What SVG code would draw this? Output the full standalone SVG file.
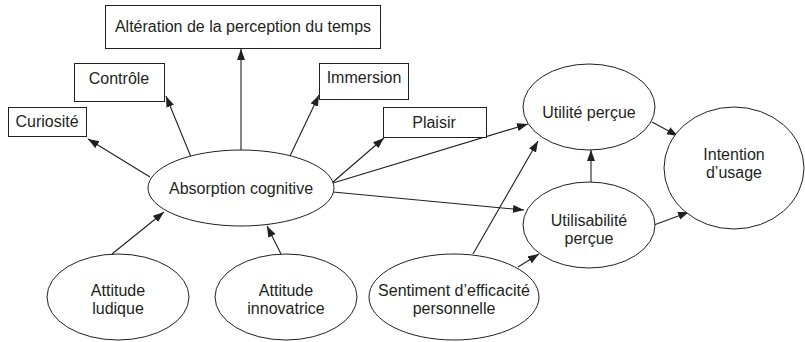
<svg xmlns="http://www.w3.org/2000/svg" width="805" height="342" viewBox="0 0 805 342">
<style>
.n{fill:#fff;stroke:#231f20;stroke-width:1}
.t{font-family:"Liberation Sans",Arial,sans-serif;font-size:16px;fill:#231f20;text-anchor:middle}
.c line{stroke:#231f20;stroke-width:1.1;marker-end:url(#ah)}
</style>
<defs>
<marker id="ah" markerUnits="userSpaceOnUse" markerWidth="12" markerHeight="10" refX="11" refY="4" orient="auto">
<path d="M0,0 L11,4 L0,8 Z" fill="#231f20"/>
</marker>
</defs>
<rect width="805" height="342" fill="#fff"/>
<g class="c">
<line x1="150" y1="177" x2="88" y2="139"/>
<line x1="191" y1="157" x2="166" y2="96"/>
<line x1="241" y1="150" x2="241" y2="49"/>
<line x1="290" y1="156" x2="319" y2="95"/>
<line x1="333" y1="182" x2="384" y2="138"/>
<line x1="333" y1="183" x2="528" y2="124"/>
<line x1="333" y1="192" x2="524" y2="210"/>
<line x1="591" y1="182" x2="591" y2="150"/>
<line x1="652" y1="122" x2="678" y2="136"/>
<line x1="654" y1="225" x2="689" y2="212"/>
<line x1="473" y1="254" x2="538" y2="141"/>
<line x1="518" y1="267" x2="539" y2="254"/>
<line x1="112" y1="254" x2="164" y2="212"/>
<line x1="281" y1="254" x2="267" y2="226"/>
</g>
<g id="alteration"><rect class="n" x="105.5" y="5.5" width="275" height="43"/><text class="t" x="243" y="32">Altération de la perception du temps</text></g>
<g id="controle"><rect class="n" x="74.5" y="63.5" width="90" height="38"/><text class="t" x="119" y="84">Contrôle</text></g>
<g id="immersion"><rect class="n" x="319.5" y="63.5" width="89" height="36"/><text class="t" x="364" y="83">Immersion</text></g>
<g id="curiosite"><rect class="n" x="8.5" y="107.5" width="78" height="29"/><text class="t" x="47" y="127">Curiosité</text></g>
<g id="plaisir"><rect class="n" x="383.5" y="107.5" width="103" height="30"/><text class="t" x="434" y="128">Plaisir</text></g>
<g id="absorption"><ellipse class="n" cx="241" cy="188" rx="93" ry="38"/><text class="t" x="241" y="194">Absorption cognitive</text></g>
<g id="ludique"><ellipse class="n" cx="118" cy="297" rx="71" ry="43"/><text class="t" x="118" y="296">Attitude</text><text class="t" x="118" y="314">ludique</text></g>
<g id="innovatrice"><ellipse class="n" cx="286" cy="297" rx="71" ry="43"/><text class="t" x="286" y="296">Attitude</text><text class="t" x="286" y="314">innovatrice</text></g>
<g id="sentiment"><ellipse class="n" cx="454" cy="297" rx="85" ry="43"/><text class="t" x="454" y="296">Sentiment d’efficacité</text><text class="t" x="454" y="314">personnelle</text></g>
<g id="utilite"><ellipse class="n" cx="589" cy="107" rx="66" ry="43"/><text class="t" x="589" y="118">Utilité perçue</text></g>
<g id="utilisabilite"><ellipse class="n" cx="589" cy="225" rx="66" ry="43"/><text class="t" x="589" y="226">Utilisabilité</text><text class="t" x="589" y="244">perçue</text></g>
<g id="intention"><ellipse class="n" cx="734" cy="168" rx="70" ry="61"/><text class="t" x="734" y="160">Intention</text><text class="t" x="734" y="178">d’usage</text></g>
</svg>
